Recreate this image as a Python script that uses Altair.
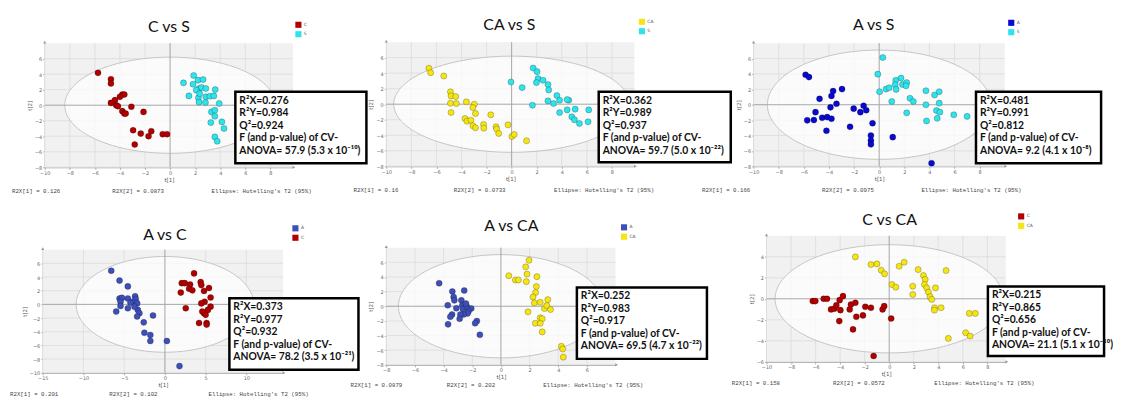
import altair as alt
import numpy as np
import pandas as pd

# ---------------- data ----------------
titles = ["C vs S", "CA vs S", "A vs S", "A vs C", "A vs CA", "C vs CA"]
groups = [["C", "S"], ["CA", "S"], ["A", "S"], ["A", "C"], ["A", "CA"], ["C", "CA"]]

p1_C_x = [-5.75, -4.72, -4.72, -3.81, -3.65, -4.0, -4.4, -4.72, -4.3, -4.16, -3.81, -3.65, -3.54, -3.09, -2.12, -2.95, -2.34, -1.72, -1.5, -2.82, -0.59, -0.24]
p1_C_y = [4.17, 3.35, 2.8, 1.38, 1.38, 1.08, 0.65, 0.3, 0.0, -0.13, -0.77, -1.08, -1.08, -0.2, -0.86, -3.23, -3.66, -4.0, -3.35, -5.07, -3.74, -3.74]
p1_S_x = [1.88, 1.07, 2.23, 2.63, 1.83, 2.31, 2.5, 2.85, 2.09, 3.6, 1.5, 2.26, 2.85, 3.17, 3.49, 2.31, 2.82, 3.92, 3.3, 3.57, 3.57, 3.25, 4.13, 4.3, 3.57, 3.76, 2.36]
p1_S_y = [3.83, 2.88, 3.23, 3.31, 2.71, 2.15, 2.28, 2.15, 1.94, 2.02, 1.2, 0.95, 1.08, 1.16, 1.2, 0.39, 0.34, 0.22, -0.86, -0.65, -1.42, -2.24, -2.15, -3.0, -4.09, -4.65, 1.5]

p2_CA_x = [-6.6, -6.46, -5.41, -4.88, -4.83, -4.46, -4.88, -4.41, -4.83, -3.61, -2.98, -3.09, -2.88, -3.72, -3.56, -3.25, -3.09, -2.88, -2.24, -2.22, -1.66, -1.24, -1.19, -1.03, -0.29, 0.03, 0.21, 1.19]
p2_CA_y = [4.63, 4.07, 3.64, 1.59, 1.07, 0.99, 0.13, 0.09, -1.07, 0.3, 0.0, -0.43, -1.2, -1.84, -2.19, -2.06, -2.79, -3.04, -2.61, -3.09, -1.37, -2.91, -3.21, -3.77, -2.66, -4.16, -3.9, -4.71]
p2_S_x = [-0.05, 0.84, 1.72, 2.03, 2.11, 1.98, 2.51, 2.9, 2.96, 3.61, 3.83, 3.35, 2.9, 1.66, 3.83, 4.43, 4.56, 4.43, 5.07, 4.8, 5.01, 5.41, 6.1, 6.15]
p2_S_y = [2.87, 2.14, 4.67, 4.2, 3.3, 2.79, 3.09, 2.53, 1.84, 1.11, 0.51, 0.09, 0.43, -0.13, -1.07, -0.73, 0.51, 0.6, -0.64, -1.63, -2.01, -2.49, -2.27, -0.73]

p3_A_x = [-5.86, -5.59, -4.75, -3.67, -3.8, -2.96, -3.4, -3.88, -5.07, -5.73, -5.2, -4.54, -4.14, -3.8, -4.2, -2.03, -1.5, -1.24, -1.03, -2.32, -0.53, -0.66, -0.66, -0.66, 1.08, 4.17]
p3_A_y = [3.89, 3.59, 0.76, 1.77, 1.14, 2.03, 0.13, -0.34, -0.97, -2.03, -1.99, -1.69, -1.61, -1.82, -3.38, -0.51, -0.97, -0.13, -0.72, -2.87, -2.41, -4.01, -4.65, -5.15, -4.22, -7.6]
p3_S_x = [0.29, -0.11, 0.03, 0.55, 0.79, 1.32, 1.74, 1.27, 1.85, 2.19, 2.14, 1.35, 1.0, 2.45, 2.72, 2.19, 3.72, 4.41, 4.78, 4.78, 3.72, 4.56, 4.83, 3.77, 4.62, 5.94, 7.0]
p3_S_y = [6.13, 3.97, 1.69, 2.03, 2.2, 3.17, 3.46, 2.62, 2.62, 2.87, 2.45, 1.99, 0.42, 0.84, 0.42, -1.06, 1.82, 1.27, 1.69, 0.21, 0.0, -0.76, -0.97, -2.11, -1.77, -1.31, -1.52]

p4_A_x = [-6.59, -5.57, -4.55, -5.57, -5.28, -5.45, -5.45, -5.98, -4.55, -4.55, -3.66, -3.58, -3.94, -4.23, -3.41, -3.33, -3.13, -3.41, -1.46, -2.6, -2.52, -1.79, -1.79, 0.24, 1.79, -3.74]
p4_A_y = [4.92, 3.48, 2.63, 0.86, 0.95, 0.38, -0.24, -1.05, -0.57, 0.86, 1.19, 0.76, 0.38, 0.24, 0.14, -0.81, -1.29, -1.77, -1.62, -2.63, -4.15, -4.49, -5.35, -5.35, -9.02, -0.33]
p4_C_x = [3.58, 2.07, 2.44, 3.09, 2.97, 3.37, 4.39, 4.47, 1.95, 4.8, 5.41, 5.61, 4.88, 4.47, 5.61, 5.28, 4.8, 4.59, 5.0, 2.56, 4.19, 5.12, 5.12]
p4_C_y = [4.53, 3.1, 3.1, 2.91, 2.29, 2.05, 3.25, 2.82, 1.72, 1.96, 2.39, 1.0, 0.38, 0.14, -0.33, -0.81, -1.29, -1.05, -1.53, -0.57, -2.72, -2.72, -2.96]

p5_A_x = [-4.31, -3.39, -2.56, -3.3, -3.25, -3.71, -3.11, -2.76, -2.7, -2.65, -2.37, -2.07, -2.26, -2.33, -2.6, -2.83, -2.88, -3.41, -3.53, -3.69, -1.68, -1.8, -1.47, -2.44]
p5_A_y = [3.14, 2.02, 2.15, 1.26, 0.81, 0.13, -0.27, 0.81, 0.09, -0.36, -0.09, -0.31, -0.67, -0.99, -1.12, -1.12, -1.7, -1.12, -1.43, -2.47, -2.02, -2.33, -3.9, 0.36]
p5_CA_x = [1.96, 1.73, 1.82, 1.77, 2.51, 0.55, 1.01, 1.22, 2.47, 2.42, 2.24, 2.33, 2.74, 3.27, 3.04, 3.2, 3.46, 1.89, 2.74, 2.88, 2.4, 2.74, 2.88, 4.22, 4.31, 4.35]
p5_CA_y = [6.28, 5.38, 4.39, 3.36, 4.04, 4.17, 3.59, 3.59, 2.69, 1.88, 1.26, 0.45, 0.54, 0.9, -0.31, 0.09, -0.45, -0.76, -1.57, -1.7, -2.33, -2.33, -3.5, -5.47, -5.83, -6.95]

p6_C_x = [-6.23, -6.02, -5.34, -5.07, -4.74, -4.47, -4.31, -4.04, -3.77, -3.98, -4.07, -3.22, -3.12, -2.76, -2.68, -2.95, -2.14, -1.95, -1.49, -0.54, -0.41, 0.16, -1.27]
p6_C_y = [-0.22, -0.22, 0.0, 0.0, -1.01, -0.95, -0.63, -0.13, 0.25, -1.08, -2.12, -1.01, -0.54, -0.38, -1.71, -2.91, -1.58, -0.76, -0.85, -1.01, -0.7, -1.87, -5.44]
p6_CA_x = [-2.76, -1.49, -1.0, -0.65, -0.38, 0.81, 1.22, 0.22, 0.54, 2.36, 2.79, 2.93, 2.87, 3.06, 3.2, 3.33, 3.47, 1.92, 1.92, 3.77, 4.63, 3.69, 3.69, 4.23, 6.53, 7.02, 6.23, 6.59, 4.82]
p6_CA_y = [3.99, 3.26, 3.32, 2.72, 2.37, 3.1, 3.48, 1.36, 1.11, 2.78, 2.22, 1.84, 1.36, 1.04, 0.63, 0.19, -0.06, 1.2, 0.41, 1.04, 2.69, -0.85, -1.08, -0.85, -1.39, -1.39, -3.23, -3.54, -3.77]

points = [
    [(p1_C_x, p1_C_y), (p1_S_x, p1_S_y)],
    [(p2_CA_x, p2_CA_y), (p2_S_x, p2_S_y)],
    [(p3_A_x, p3_A_y), (p3_S_x, p3_S_y)],
    [(p4_A_x, p4_A_y), (p4_C_x, p4_C_y)],
    [(p5_A_x, p5_A_y), (p5_CA_x, p5_CA_y)],
    [(p6_C_x, p6_C_y), (p6_CA_x, p6_CA_y)],
]

r2x = ["0.276", "0.362", "0.481", "0.373", "0.252", "0.215"]
r2y = ["0.984", "0.989", "0.991", "0.977", "0.983", "0.865"]
q2 = ["0.924", "0.937", "0.812", "0.932", "0.917", "0.656"]
f_val = ["57.9", "59.7", "9.2", "78.2", "69.5", "21.1"]
p_mant = ["5.3", "5.0", "4.1", "3.5", "4.7", "5.1"]
p_exp = ["⁻¹⁰", "⁻²²", "⁻⁸", "⁻²¹", "⁻²²", "⁻¹⁰"]
r2x_1 = ["0.126", "0.16", "0.166", "0.201", "0.0879", "0.158"]
r2x_2 = ["0.0873", "0.0733", "0.0975", "0.102", "0.202", "0.0572"]
ellipse_a = [8.4, 9.4, 8.9, 10.9, 7.15, 9.3]
ellipse_b = [6.2, 6.2, 7.1, 7.0, 7.05, 5.15]
x_domains = [[-10, 9.8], [-10, 9.8], [-10, 10], [-15, 14.5], [-8, 8], [-10, 9.5]]
y_domains = [[-8, 8], [-8, 8], [-8, 8], [-10, 8], [-8, 8], [-6, 6]]
x_ticks = [list(range(-10, 9, 2)), list(range(-10, 9, 2)), list(range(-10, 9, 2)),
           [-15, -10, -5, 0, 5, 10], list(range(-8, 7, 2)), list(range(-10, 9, 2))]
y_ticks = [list(range(-8, 7, 2)), list(range(-8, 7, 2)), list(range(-8, 7, 2)),
           list(range(-10, 7, 2)), list(range(-8, 7, 2)), list(range(-6, 5, 2))]

# ---------------- style / layout ----------------
COLORS = {"C": "#B00000", "S": "#2EE3EA", "CA": "#F5E512", "A": "#3D4FB8"}
A_DARK = "#0A0ACF"
FONT = "Lato, 'Noto Sans', sans-serif"
MONO = "Liberation Mono"
PAGE = 8          # page margin: chart coordinates = screen coordinates - 8
W, H = 1105, 390  # whole drawing area

# screen geometry of each plot area and its annotations
geo = [
    dict(x0=45, y0=42, w=250, h=125, box=(237, 91, 369, 163), title=(170, 26), leg=(297, 20), fy=191, fx=(12, 113, 213)),
    dict(x0=389, y0=41, w=250, h=125, box=(603, 91, 736, 162), title=(513, 24), leg=(643, 17), fy=190, fx=(356, 457, 558)),
    dict(x0=759, y0=42, w=253, h=124, box=(983, 91, 1109, 163), title=(880, 24), leg=(1015, 18), fy=190, fx=(707, 828, 928)),
    dict(x0=43, y0=250, w=242, h=124, box=(231, 299, 361, 371), title=(166, 235), leg=(294, 225), fy=395, fx=(10, 110, 210)),
    dict(x0=389, y0=248, w=231, h=118, box=(581, 288, 712, 360), title=(515, 226), leg=(625, 224), fy=386, fx=(353, 450, 547)),
    dict(x0=772, y0=236, w=241, h=127, box=(995, 287, 1112, 357), title=(896, 220), leg=(1025, 213), fy=384, fx=(737, 839, 941)),
]

ONE = pd.DataFrame({"k": [0]})


def make_axis(ticks, title, orient, offset):
    return alt.Axis(values=ticks, title=title, orient=orient, offset=offset,
                    titleFontSize=5.5, titleFontWeight="normal", titleColor="#555",
                    titleFont="DejaVu Sans", titlePadding=2,
                    labelFontSize=5, labelColor="#666", labelFont="DejaVu Sans", labelPadding=1,
                    labelFlush=False, labelOverlap=False, tickSize=2, tickColor="#aaa",
                    domainColor="#999", grid=False)


def panel_layers(i):
    g = geo[i]
    cx0, cy0, w, h = g["x0"] - PAGE, g["y0"] - PAGE, g["w"], g["h"]
    xs = alt.Scale(domain=x_domains[i], range=[cx0, cx0 + w], nice=False, zero=False)
    ys = alt.Scale(domain=y_domains[i], range=[cy0 + h, cy0], nice=False, zero=False)
    ax = make_axis(x_ticks[i], "t[1]", "bottom", (cy0 + h) - H)
    ay = make_axis(y_ticks[i], "t[2]", "left", -cx0)
    xd0, xd1 = x_domains[i]
    yd0, yd1 = y_domains[i]

    def X(f="x", axis=None):
        return alt.X(f"{f}:Q", scale=xs, axis=axis)

    def Y(f="y", axis=None):
        return alt.Y(f"{f}:Q", scale=ys, axis=axis)

    layers = []
    # plot background (carries the axes)
    bg = pd.DataFrame({"x": [xd0], "x2": [xd1], "y": [yd0], "y2": [yd1]})
    layers.append(alt.Chart(bg).mark_rect(color="#f1f1f1").encode(
        x=X(axis=ax), x2="x2:Q", y=Y(axis=ay), y2="y2:Q"))
    # grid lines at the tick values
    gx = pd.DataFrame({"x": x_ticks[i], "y": [yd0] * len(x_ticks[i]), "y2": [yd1] * len(x_ticks[i])})
    gy = pd.DataFrame({"y": y_ticks[i], "x": [xd0] * len(y_ticks[i]), "x2": [xd1] * len(y_ticks[i])})
    layers.append(alt.Chart(gx).mark_rule(color="#dcdcdc", strokeWidth=0.8).encode(x=X(), y=Y(), y2="y2:Q"))
    layers.append(alt.Chart(gy).mark_rule(color="#dcdcdc", strokeWidth=0.8).encode(y=Y(), x=X(), x2="x2:Q"))

    # Hotelling ellipse
    a, b = ellipse_a[i], ellipse_b[i]
    t = np.linspace(0, np.pi, 121)
    ell_fill = pd.DataFrame({"x": a * np.cos(t), "y": b * np.sin(t), "y2": -b * np.sin(t)})
    t2 = np.linspace(0, 2 * np.pi, 241)
    ell_line = pd.DataFrame({"x": a * np.cos(t2), "y": b * np.sin(t2), "o": np.arange(241)})
    layers.append(alt.Chart(ell_fill).mark_area(color="white", opacity=0.72).encode(
        x=X(), y=Y(), y2="y2:Q"))
    layers.append(alt.Chart(ell_line).mark_line(color="#c4c4c4", strokeWidth=1).encode(
        x=X(), y=Y(), order="o:Q"))

    # zero lines
    zx = pd.DataFrame({"x": [0], "y": [yd0], "y2": [yd1]})
    zy = pd.DataFrame({"y": [0], "x": [xd0], "x2": [xd1]})
    layers.append(alt.Chart(zx).mark_rule(color="#a8a8a8", strokeWidth=1).encode(x=X(), y=Y(), y2="y2:Q"))
    layers.append(alt.Chart(zy).mark_rule(color="#a8a8a8", strokeWidth=1).encode(y=Y(), x=X(), x2="x2:Q"))

    # score points
    rows = []
    for gname, (px, py) in zip(groups[i], points[i]):
        for xv, yv in zip(px, py):
            rows.append({"x": xv, "y": yv, "g": gname})
    pdf = pd.DataFrame(rows)
    cols = [(A_DARK if (gn == "A" and i == 2) else COLORS[gn]) for gn in groups[i]]
    lx, ly = g["leg"]
    layers.append(alt.Chart(pdf).mark_circle(size=38, opacity=1, stroke="#000", strokeWidth=0.5,
                                             strokeOpacity=0.45).encode(
        x=X(), y=Y(),
        color=alt.Color("g:N", scale=alt.Scale(domain=groups[i], range=cols),
                        legend=alt.Legend(orient="none", legendX=lx - PAGE, legendY=ly - PAGE, title=None,
                                          symbolType="square", symbolSize=38, symbolStrokeWidth=0,
                                          symbolOpacity=1, labelFontSize=4.5, labelColor="#555",
                                          labelFont="DejaVu Sans", rowPadding=2.5, padding=0,
                                          labelOffset=2, symbolOffset=0))))

    # axis arrows
    layers.append(alt.Chart(ONE).mark_point(shape="triangle-right", filled=True, size=10, color="#999",
                                            opacity=1).encode(x=alt.value(cx0 + w + 1), y=alt.value(cy0 + h)))
    layers.append(alt.Chart(ONE).mark_point(shape="triangle-up", filled=True, size=10, color="#999",
                                            opacity=1).encode(x=alt.value(cx0), y=alt.value(cy0 - 1)))

    # statistics box
    bx0, by0, bx1, by1 = [v - PAGE for v in g["box"]]
    layers.append(alt.Chart(ONE).mark_rect(fill="white", stroke="black", strokeWidth=2.5).encode(
        x=alt.value(bx0), x2=alt.value(bx1), y=alt.value(by0), y2=alt.value(by1)))
    lines = [f"R²X={r2x[i]}", f"R²Y={r2y[i]}", f"Q²={q2[i]}", "F (and p-value) of CV-",
             f"ANOVA= {f_val[i]} ({p_mant[i]} x 10{p_exp[i]})"]
    layers.append(alt.Chart(ONE).mark_text(text=lines, font=FONT, fontWeight="bold", fontSize=10.4,
                                           lineHeight=12.6, align="left", baseline="top",
                                           color="#111").encode(
        x=alt.value(bx0 + 4), y=alt.value(by0 + 4)))

    # panel title
    tx, ty = g["title"]
    layers.append(alt.Chart(ONE).mark_text(text=titles[i], font=FONT, fontSize=16, color="#111",
                                           align="center", baseline="middle").encode(
        x=alt.value(tx - PAGE), y=alt.value(ty - PAGE)))

    # footer
    foot_texts = [f"R2X[1] = {r2x_1[i]}", f"R2X[2] = {r2x_2[i]}", "Ellipse: Hotelling's T2 (95%)"]
    for s, fx in zip(foot_texts, g["fx"]):
        layers.append(alt.Chart(ONE).mark_text(text=s, font=MONO, fontSize=5.8, color="#444", align="left",
                                               baseline="middle").encode(
            x=alt.value(fx - PAGE), y=alt.value(g["fy"] - PAGE)))
    return layers


all_layers = []
for i in range(6):
    all_layers.extend(panel_layers(i))

chart = alt.layer(*all_layers).resolve_scale(
    x="independent", y="independent", color="independent"
).properties(width=W, height=H, padding=0, background="white").configure_view(stroke=None)

chart.save("out.html", embed_options={"renderer": "svg", "actions": False})
